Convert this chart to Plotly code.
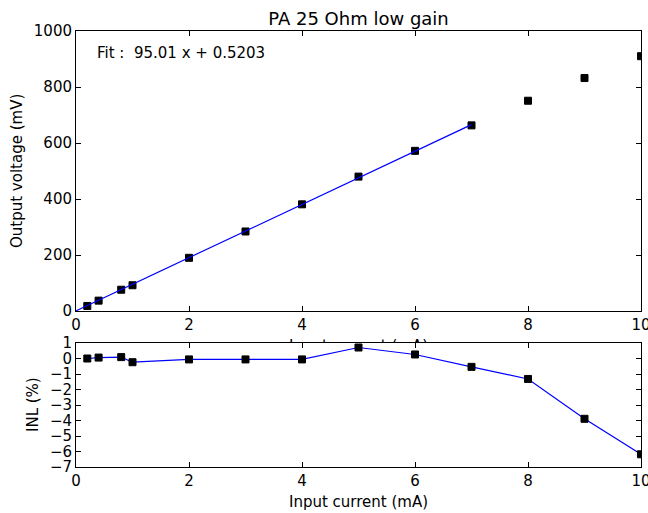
import plotly.graph_objects as go

# Measured transfer curve of the PA (25 Ohm, low gain)
current_ma = [0.2, 0.4, 0.8, 1, 2, 3, 4, 5, 6, 7, 8, 9, 10]
voltage_mv = [18, 37, 76, 92, 190, 284, 381, 480, 572, 663, 751, 832, 910]
inl_pct = [0.0, 0.06, 0.09, -0.24, -0.06, -0.06, -0.06, 0.71, 0.26, -0.54, -1.32, -3.89, -6.18]

# Linear fit over the low-current range
fit_slope = 95.01
fit_intercept = 0.5203
fit_x = [0, 7]
fit_y = [fit_slope * x + fit_intercept for x in fit_x]

W, H = 648, 513
L, R, T, B = 76, 7, 31, 46
plot_h = H - T - B


def frac_y(px):
    """Convert a pixel row (from top) into a paper y fraction."""
    return (H - B - px) / plot_h


def frac_x(px):
    return (px - L) / (W - L - R)


FONT = "DejaVu Sans"
TICK_FONT = dict(family=FONT, size=15, color="black")

fig = go.Figure()

# Top panel: measured points and fit line
fig.add_trace(go.Scatter(
    x=current_ma, y=voltage_mv, mode="markers",
    marker=dict(symbol="square", size=7, color="black",
                line=dict(color="black", width=1)),
    xaxis="x", yaxis="y", cliponaxis=True, showlegend=False,
))
fig.add_trace(go.Scatter(
    x=fit_x, y=fit_y, mode="lines",
    line=dict(color="#0000ff", width=1.2),
    xaxis="x", yaxis="y", showlegend=False,
))

# Bottom panel: integral non-linearity
fig.add_trace(go.Scatter(
    x=current_ma, y=inl_pct, mode="lines+markers",
    line=dict(color="#0000ff", width=1.2),
    marker=dict(symbol="square", size=7, color="black",
                line=dict(color="black", width=1)),
    xaxis="x2", yaxis="y2", cliponaxis=True, showlegend=False,
))

# x label of the top panel, mostly tucked behind the lower panel
fig.add_trace(go.Scatter(
    x=[5], y=[-0.3], mode="text", text=["Input current (mA)"],
    textfont=dict(family=FONT, size=15, color="black"),
    textposition="middle center",
    xaxis="x3", yaxis="y3", cliponaxis=True, showlegend=False,
    hoverinfo="skip",
))

axis_common = dict(
    showline=True, linecolor="black", linewidth=1, mirror="ticks",
    ticks="inside", ticklen=5, tickwidth=1, tickcolor="black",
    showgrid=False, zeroline=False, tickfont=TICK_FONT,
    ticklabeloverflow="allow", automargin=False,
)

top_dom = [frac_y(311), 1]
bot_dom = [0, frac_y(343)]
strip_dom = [frac_y(343), frac_y(329)]

fig.update_layout(
    width=W, height=H,
    margin=dict(l=L, r=R, t=T, b=B, autoexpand=False),
    paper_bgcolor="white", plot_bgcolor="white",
    font=dict(family=FONT, color="black"),
    title=dict(text="PA 25 Ohm low gain", x=0.5, xref="paper",
               y=1 - 19 / H, yref="container", yanchor="middle",
               xanchor="center", font=dict(family=FONT, size=18)),
    xaxis=dict(domain=[0, 1], range=[0, 10], dtick=2, tick0=0,
               anchor="y", **axis_common),
    yaxis=dict(domain=top_dom, range=[0, 1000], dtick=200, tick0=0,
               anchor="x", **axis_common),
    xaxis2=dict(domain=[0, 1], range=[0, 10], dtick=2, tick0=0,
                anchor="y2", **axis_common),
    yaxis2=dict(domain=bot_dom, range=[-7, 1], dtick=1, tick0=0,
                anchor="x2", **axis_common),
    xaxis3=dict(domain=[0, 1], range=[0, 10], anchor="y3", visible=False),
    yaxis3=dict(domain=strip_dom, range=[0, 1], anchor="x3", visible=False),
    annotations=[
        dict(text=f"Fit :\u00a0 {fit_slope:.2f} x + {fit_intercept:.4f}",
             x=0.33, y=921, xref="x", yref="y",
             xanchor="left", yanchor="middle", showarrow=False,
             font=dict(family=FONT, size=15)),
        dict(text="Output voltage (mV)", textangle=-90,
             x=frac_x(17), y=frac_y(171), xref="paper", yref="paper",
             xanchor="center", yanchor="middle", showarrow=False,
             font=dict(family=FONT, size=15)),
        dict(text="INL (%)", textangle=-90,
             x=frac_x(33), y=frac_y(405), xref="paper", yref="paper",
             xanchor="center", yanchor="middle", showarrow=False,
             font=dict(family=FONT, size=15)),
        dict(text="Input current (mA)",
             x=frac_x(358), y=frac_y(502), xref="paper", yref="paper",
             xanchor="center", yanchor="middle", showarrow=False,
             font=dict(family=FONT, size=15)),
    ],
)

fig.write_html("out.html")
